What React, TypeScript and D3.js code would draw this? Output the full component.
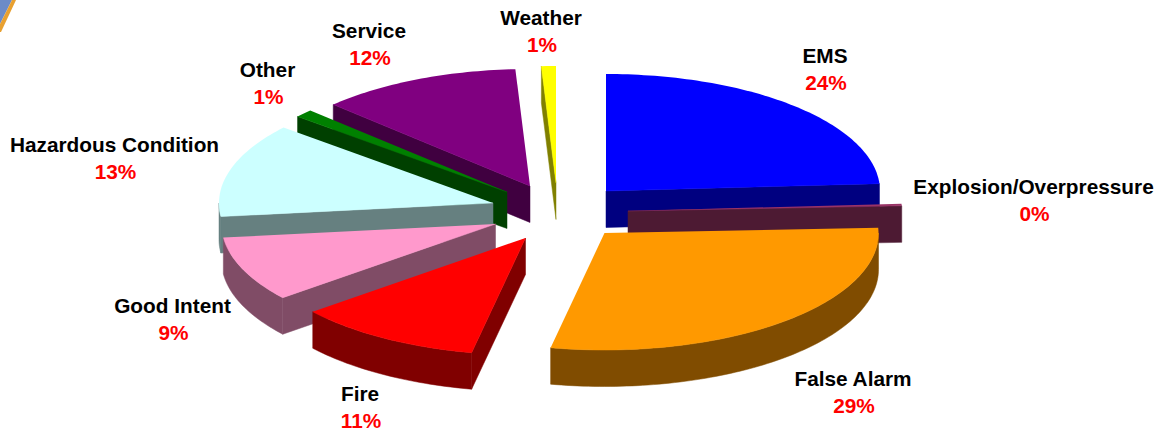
import React from "react";
import * as d3 from "d3";

const categories = ["EMS", "Explosion/Overpressure", "False Alarm", "Fire", "Good Intent", "Hazardous Condition", "Other", "Service", "Weather"];
const values = [24.0, 0.3, 28.85, 11.0, 9.0, 13.0, 1.1, 11.9, 0.85];
const percentLabels = ["24%", "0%", "29%", "11%", "9%", "13%", "1%", "12%", "1%"];
const topColors = ["#0000FF", "#993366", "#FF9900", "#FF0000", "#FF99CC", "#CCFFFF", "#008000", "#800080", "#FFFF00"];
const wallColors = ["#000080", "#4D1A33", "#804C00", "#800000", "#804C66", "#668080", "#004000", "#400040", "#808000"];

// layout only: exploded apex of every slice, and label anchors
const apexX = [606, 628, 604.5, 525.5, 495.5, 493, 507, 530, 556];
const apexY = [191, 211, 233, 238, 224, 203, 192, 186, 183];
const labelX = [825, 1033.5, 853, 360, 172.5, 114.5, 267.5, 369, 541];
const labelY = [63, 194, 386, 401, 313, 152, 77, 38, 25];
const drawOrder = [8, 7, 6, 5, 4, 3, 0, 1, 2];

const RX = 274;
const RY = 117;
const DEPTH = 36.5;
const TAU = Math.PI * 2;

const pie = d3.pie<number>().sort(null).startAngle(0).endAngle(TAU);
const line = d3.line<[number, number]>();
const xScale = d3.scaleLinear().domain([-1, 1]).range([-RX, RX]);
const yScale = d3.scaleLinear().domain([-1, 1]).range([-RY, RY]);

function rim(cx: number, cy: number, a: number, dy = 0): [number, number] {
  return [cx + xScale(Math.sin(a)), cy + yScale(-Math.cos(a)) + dy];
}
function sweep(a0: number, a1: number): number[] {
  const n = Math.max(2, Math.ceil((a1 - a0) / 0.02));
  return d3.range(n + 1).map((i) => a0 + ((a1 - a0) * i) / n);
}

function Slice({ i, a0, a1 }: { i: number; a0: number; a1: number }) {
  const cx = apexX[i];
  const cy = apexY[i];
  const top = line([[cx, cy], ...sweep(a0, a1).map((a) => rim(cx, cy, a))]) + "Z";
  const walls: { d: string; edge: string }[] = [];
  // outer rim wall: only the part turned to the viewer
  const w0 = Math.max(a0, Math.PI / 2);
  const w1 = Math.min(a1, (3 * Math.PI) / 2);
  const radial = (a: number) => {
    const o = rim(cx, cy, a);
    const ob = rim(cx, cy, a, DEPTH);
    return {
      d: line([[cx, cy], o, ob, [cx, cy + DEPTH]]) + "Z",
      edge: line([[cx, cy], o]) as string,
    };
  };
  // radial faces: the end face looks at the viewer on the right half, the start face on the left half
  if (a1 > 0 && a1 < Math.PI) walls.push(radial(a1));
  if (a0 > Math.PI && a0 < TAU) walls.push(radial(a0));
  if (w1 > w0) {
    const s = sweep(w0, w1);
    const d = line([...s.map((a) => rim(cx, cy, a)), ...s.slice().reverse().map((a) => rim(cx, cy, a, DEPTH))]) + "Z";
    walls.push({ d, edge: line(s.map((a) => rim(cx, cy, a))) as string });
  }
  return (
    <g>
      {walls.map((w, k) => (
        <g key={k}>
          <path d={w.d} fill={wallColors[i]} stroke={wallColors[i]} strokeWidth={0.5} />
          <path d={w.edge} fill="none" stroke={topColors[i]} strokeOpacity={0.6} strokeWidth={0.8} />
        </g>
      ))}
      <path d={top} fill={topColors[i]} />
    </g>
  );
}

export default function App() {
  const arcs = pie(values);
  return (
    <svg width={1159} height={438} style={{ position: "absolute", left: 0, top: 0, background: "#fff" }}>
      <polygon points="0,0 12,0 0,24" fill="#6C8BC8" />
      <polygon points="12,0 16,0 1,32 0,32 0,24" fill="#E8A030" />
      {drawOrder.map((i) => (
        <Slice key={i} i={i} a0={arcs[i].startAngle} a1={arcs[i].endAngle} />
      ))}
      <g fontFamily="'Liberation Sans', Arial, sans-serif" fontWeight="bold" fontSize={20.8} textAnchor="middle">
        {categories.map((c, i) => (
          <g key={c}>
            <text x={labelX[i]} y={labelY[i]} fill="#000">{c}</text>
            <text x={labelX[i] + 1} y={labelY[i] + 27} fill="#FF0000">{percentLabels[i]}</text>
          </g>
        ))}
      </g>
    </svg>
  );
}
